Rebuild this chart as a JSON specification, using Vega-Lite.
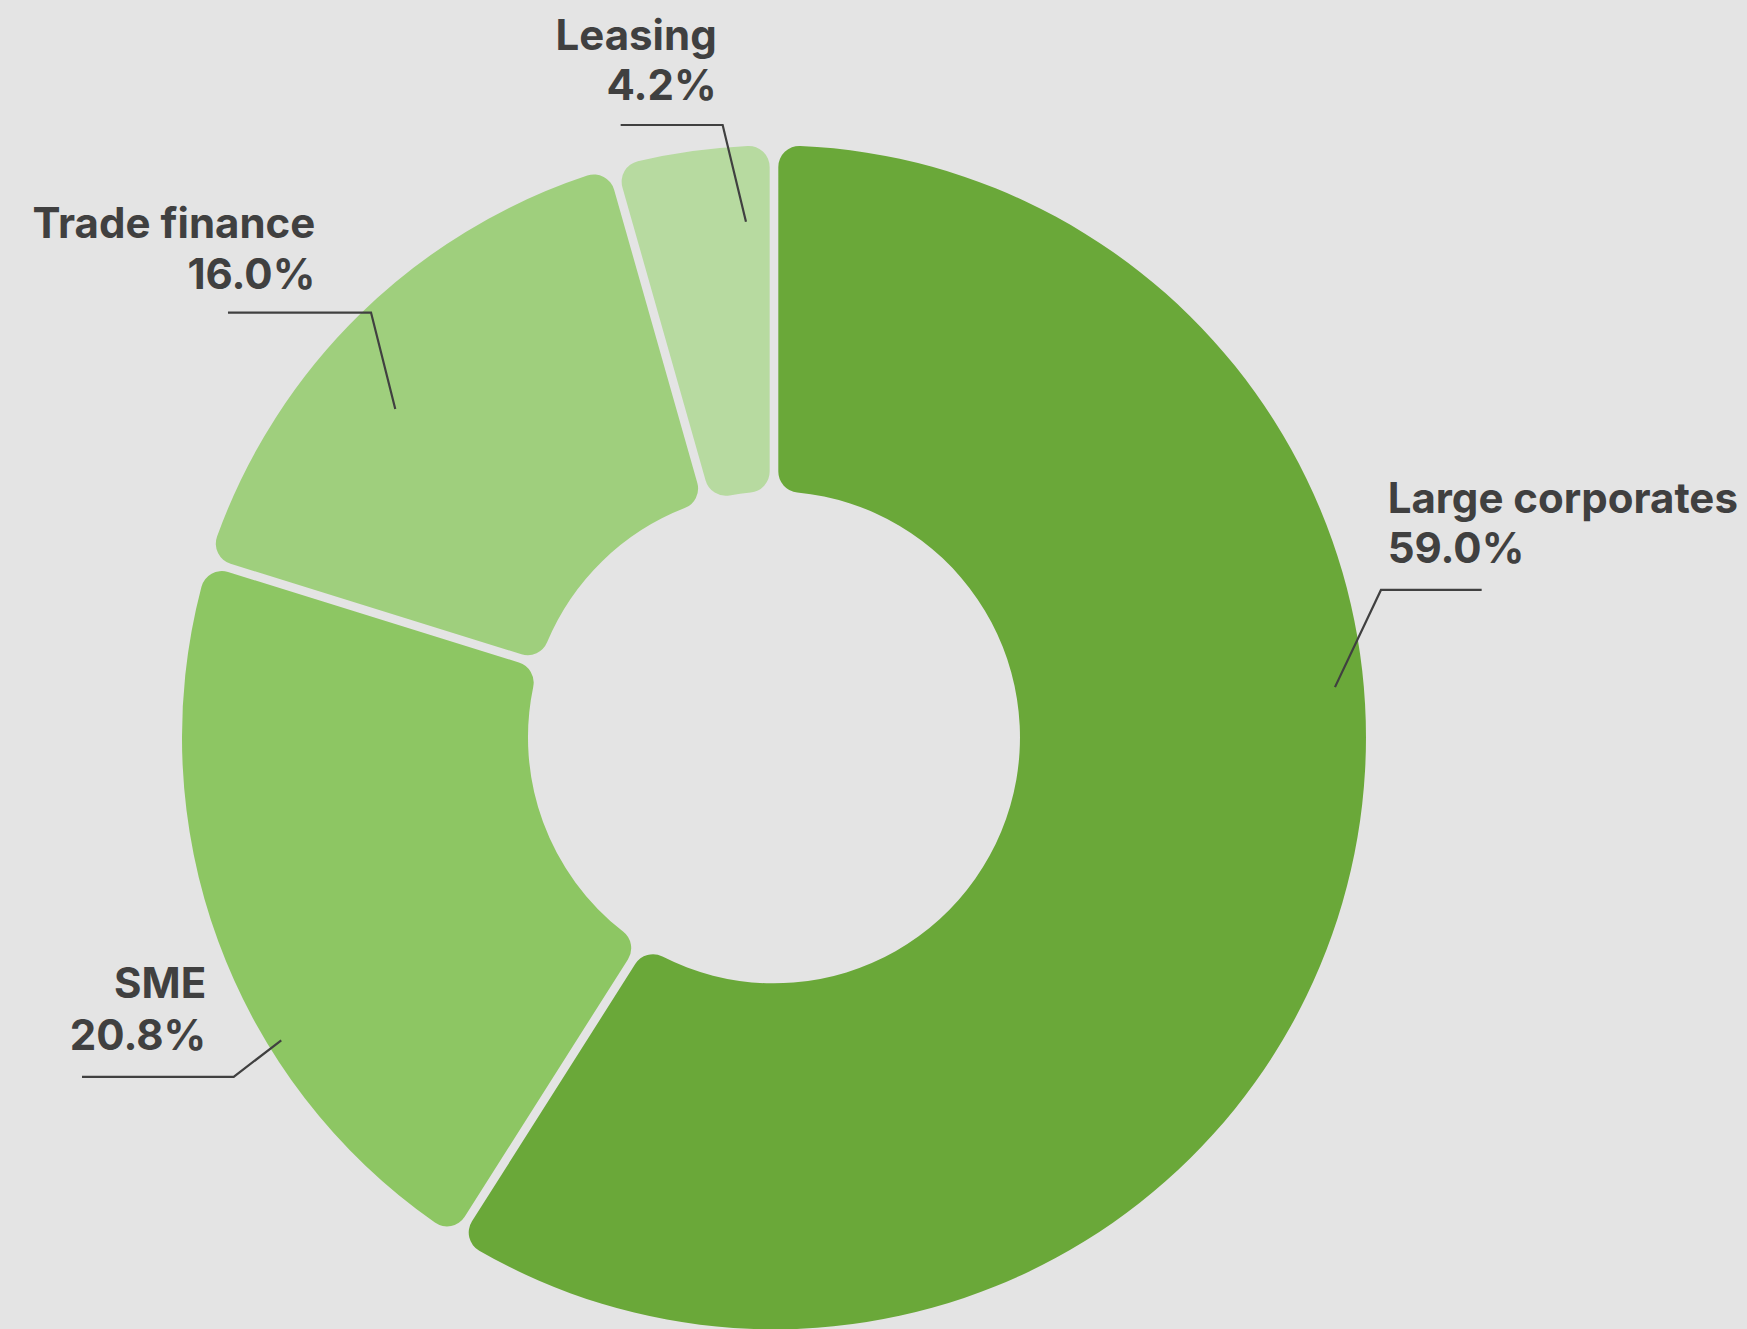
{
  "$schema": "https://vega.github.io/schema/vega-lite/v6.json",
  "width": 1747,
  "height": 1329,
  "autosize": {"type": "fit", "contains": "padding"},
  "padding": 0,
  "background": "#e4e4e4",
  "config": {"view": {"stroke": null}},
  "datasets": {
    "segments": [
      {"segment": "Large corporates", "share": 59.0, "idx": 1},
      {"segment": "SME", "share": 20.8, "idx": 2},
      {"segment": "Trade finance", "share": 15.8, "idx": 3},
      {"segment": "Leasing", "share": 4.4, "idx": 4}
    ],
    "labels": [
      {"segment": "Large corporates", "text": "Large corporates", "x": 103.66, "y": 38.06, "side": "left"},
      {"segment": "Large corporates", "text": "59.0%", "x": 103.66, "y": 29.44, "side": "left"},
      {"segment": "Leasing", "text": "Leasing", "x": -9.68, "y": 116.3, "side": "right"},
      {"segment": "Leasing", "text": "4.2%", "x": -9.68, "y": 107.94, "side": "right"},
      {"segment": "Trade finance", "text": "Trade finance", "x": -77.48, "y": 84.58, "side": "right"},
      {"segment": "Trade finance", "text": "16.0%", "x": -77.48, "y": 75.84, "side": "right"},
      {"segment": "SME", "text": "SME", "x": -95.9, "y": -44.14, "side": "right"},
      {"segment": "SME", "text": "20.8%", "x": -95.9, "y": -52.87, "side": "right"}
    ],
    "leaders": [
      {"segment": "Leasing", "p": 1, "x": -25.9, "y": 103.67},
      {"segment": "Leasing", "p": 2, "x": -8.67, "y": 103.67},
      {"segment": "Leasing", "p": 3, "x": -4.73, "y": 87.28},
      {"segment": "Trade finance", "p": 1, "x": -92.23, "y": 71.91},
      {"segment": "Trade finance", "p": 2, "x": -68.07, "y": 71.91},
      {"segment": "Trade finance", "p": 3, "x": -63.97, "y": 55.57},
      {"segment": "Large corporates", "p": 1, "x": 119.54, "y": 24.95},
      {"segment": "Large corporates", "p": 2, "x": 102.53, "y": 24.95},
      {"segment": "Large corporates", "p": 3, "x": 94.76, "y": 8.5},
      {"segment": "SME", "p": 1, "x": -116.89, "y": -57.48},
      {"segment": "SME", "p": 2, "x": -91.27, "y": -57.48},
      {"segment": "SME", "p": 3, "x": -83.23, "y": -51.3}
    ]
  },
  "layer": [
    {
      "data": {"name": "segments"},
      "mark": {"type": "arc", "outerRadius": 592, "innerRadius": 246, "padAngle": 0.0135, "cornerRadius": 21},
      "encoding": {
        "theta": {"field": "share", "type": "quantitative", "stack": true},
        "order": {"field": "idx", "type": "quantitative"},
        "color": {
          "field": "segment", "type": "nominal", "legend": null,
          "scale": {"domain": ["Large corporates", "SME", "Trade finance", "Leasing"], "range": ["#6aa839", "#8dc663", "#9fcf7d", "#b7daa0"]}
        },
        "x": {"datum": 0, "type": "quantitative", "axis": null, "scale": {"domain": [-130.74, 164.36], "nice": false, "zero": false}},
        "y": {"datum": 0, "type": "quantitative", "axis": null, "scale": {"domain": [-99.66, 124.83], "nice": false, "zero": false}}
      }
    },
    {
      "data": {"name": "leaders"},
      "mark": {"type": "line", "stroke": "#404040", "strokeWidth": 2.2},
      "encoding": {
        "x": {"field": "x", "type": "quantitative", "axis": null, "scale": {"domain": [-130.74, 164.36], "nice": false, "zero": false}},
        "y": {"field": "y", "type": "quantitative", "axis": null, "scale": {"domain": [-99.66, 124.83], "nice": false, "zero": false}},
        "detail": {"field": "segment"},
        "order": {"field": "p", "type": "quantitative"}
      }
    },
    {
      "data": {"name": "labels"},
      "transform": [{"filter": "datum.side === 'right'"}],
      "mark": {"type": "text", "align": "right", "baseline": "alphabetic", "font": "Inter", "fontWeight": "bold", "fontSize": 42, "fill": "#404040"},
      "encoding": {
        "x": {"field": "x", "type": "quantitative", "axis": null, "scale": {"domain": [-130.74, 164.36], "nice": false, "zero": false}},
        "y": {"field": "y", "type": "quantitative", "axis": null, "scale": {"domain": [-99.66, 124.83], "nice": false, "zero": false}},
        "text": {"field": "text"}
      }
    },
    {
      "data": {"name": "labels"},
      "transform": [{"filter": "datum.side === 'left'"}],
      "mark": {"type": "text", "align": "left", "baseline": "alphabetic", "font": "Inter", "fontWeight": "bold", "fontSize": 42, "fill": "#404040"},
      "encoding": {
        "x": {"field": "x", "type": "quantitative", "axis": null, "scale": {"domain": [-130.74, 164.36], "nice": false, "zero": false}},
        "y": {"field": "y", "type": "quantitative", "axis": null, "scale": {"domain": [-99.66, 124.83], "nice": false, "zero": false}},
        "text": {"field": "text"}
      }
    }
  ]
}
